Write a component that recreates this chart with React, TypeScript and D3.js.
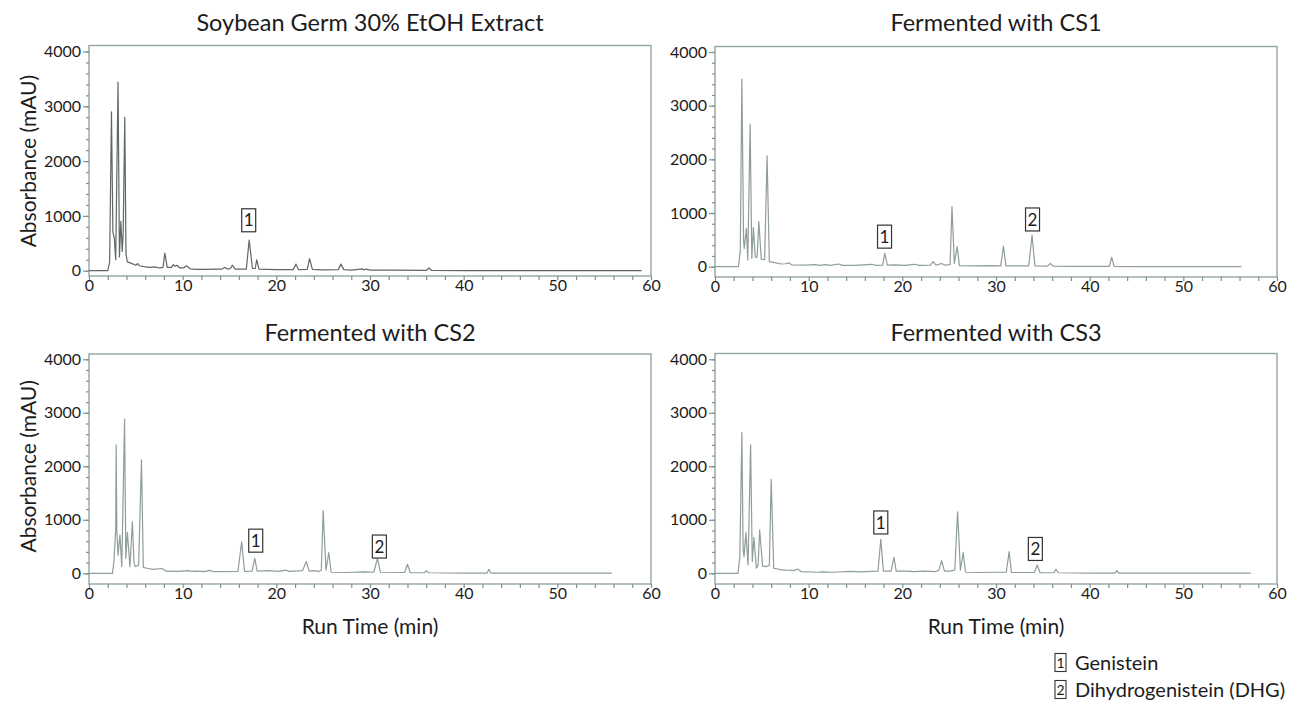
import React, { useEffect, useRef } from 'react';
import * as d3 from 'd3';

type Pt = [number, number];

// traces: [run time (min), absorbance (mAU)]
const soyTrace: Pt[] = [
  [0, 0], [2.0, 0], [2.2, 150], [2.4, 2900], [2.55, 700], [2.7, 600], [2.85, 200], [3.1, 3440], [3.25, 250],
  [3.4, 900], [3.55, 350], [3.65, 700], [3.82, 2800], [3.95, 300], [4.1, 160], [4.6, 130], [5.0, 100], [5.2, 130],
  [5.4, 90], [6.0, 70], [6.5, 60], [7.0, 70], [7.5, 50], [7.9, 60], [8.1, 320], [8.35, 60], [8.8, 60], [9.0, 110],
  [9.2, 80], [9.4, 100], [9.7, 50], [10.1, 50], [10.4, 90], [10.8, 35], [11.5, 25], [12.5, 25], [13.5, 30],
  [14.2, 30], [14.5, 60], [14.8, 30], [15.1, 40], [15.3, 100], [15.6, 30], [16.8, 30], [17.1, 560], [17.45, 40],
  [17.75, 40], [17.9, 200], [18.15, 30], [19, 25], [20, 20], [21.8, 20], [22.1, 120], [22.35, 20], [23.3, 25],
  [23.55, 220], [23.85, 25], [25, 15], [26.6, 20], [26.9, 120], [27.2, 20], [28, 10], [29.2, 35], [29.35, 15],
  [29.6, 30], [30, 10], [32, 10], [36.0, 5], [36.3, 50], [36.6, 5], [40, 3], [59, 3],
];

const cs1Trace: Pt[] = [
  [0, 0], [2.5, 0], [2.7, 300], [2.87, 3495], [3.05, 500], [3.12, 340], [3.35, 715], [3.5, 125], [3.75, 2655],
  [3.93, 155], [4.1, 730], [4.3, 175], [4.5, 180], [4.68, 840], [4.94, 140], [5.3, 130], [5.56, 2065], [5.8, 95],
  [6.5, 70], [7.05, 50], [7.5, 55], [7.9, 70], [8.2, 35], [9.5, 30], [10.7, 40], [11.2, 25], [11.8, 40], [12.3, 25],
  [13.2, 50], [13.6, 25], [15, 25], [16.7, 45], [17.2, 25], [17.9, 30], [18.13, 250], [18.4, 30], [19.2, 35],
  [20.3, 25], [21.3, 45], [21.8, 25], [23.0, 30], [23.3, 95], [23.6, 30], [24.2, 60], [24.5, 30], [25.1, 40],
  [25.3, 1120], [25.55, 60], [25.85, 375], [26.1, 20], [27.5, 15], [29.4, 20], [30.5, 15], [30.8, 385], [31.05, 15],
  [33.5, 15], [33.85, 590], [34.15, 15], [35.5, 10], [35.8, 60], [36.1, 10], [38, 5], [42.1, 5], [42.35, 175],
  [42.6, 5], [45, 3], [56.2, 3],
];

const cs2Trace: Pt[] = [
  [0, 0], [2.5, 0], [2.65, 200], [2.85, 810], [2.9, 2400], [2.97, 800], [3.1, 340], [3.3, 715], [3.5, 125],
  [3.8, 2880], [3.93, 280], [4.1, 765], [4.37, 125], [4.63, 965], [4.8, 200], [4.94, 125], [5.3, 150], [5.6, 2120],
  [5.8, 110], [6.3, 90], [6.9, 75], [7.8, 90], [8.25, 40], [9.5, 35], [10.5, 50], [11.0, 35], [11.5, 40], [12.3, 30],
  [12.9, 55], [13.3, 30], [15.9, 35], [16.3, 590], [16.6, 35], [17.4, 40], [17.7, 280], [17.95, 40], [19.2, 50],
  [20.3, 35], [21.0, 60], [21.4, 35], [22.8, 50], [23.2, 220], [23.5, 40], [24.0, 50], [24.5, 35], [24.8, 60],
  [25.0, 1170], [25.3, 60], [25.6, 385], [25.85, 20], [27.5, 15], [29.4, 25], [30.4, 20], [30.8, 280], [31.1, 20],
  [33.7, 15], [34.0, 170], [34.3, 10], [35.8, 10], [36.0, 50], [36.3, 10], [40, 5], [42.5, 5], [42.7, 75],
  [42.9, 5], [46, 3], [55.8, 3],
];

const cs3Trace: Pt[] = [
  [0, 0], [2.45, 0], [2.65, 300], [2.87, 2630], [3.0, 470], [3.1, 310], [3.3, 760], [3.53, 155], [3.8, 2400],
  [3.98, 220], [4.15, 670], [4.42, 95], [4.6, 150], [4.77, 810], [5.08, 135], [5.5, 125], [5.8, 150], [6.0, 1755],
  [6.27, 95], [7.0, 70], [7.5, 60], [8.5, 55], [8.84, 80], [9.2, 30], [11.0, 20], [11.5, 25], [12.5, 20],
  [14.5, 35], [15.5, 25], [17.4, 40], [17.7, 635], [17.98, 40], [18.8, 40], [19.1, 300], [19.35, 40], [20.5, 40],
  [21.3, 30], [22.3, 40], [23.5, 30], [23.9, 60], [24.2, 235], [24.5, 40], [25.0, 40], [25.6, 60], [25.9, 1150],
  [26.2, 60], [26.5, 385], [26.75, 20], [28, 15], [30.0, 20], [31.1, 20], [31.4, 405], [31.65, 15], [34.1, 15],
  [34.4, 155], [34.7, 10], [36.2, 10], [36.4, 75], [36.65, 10], [40, 5], [42.7, 5], [42.9, 50], [43.1, 5],
  [47, 3], [57.2, 3],
];

// boxed peak labels: [peak id, time, absorbance of label centre]
const soyMarks: [string, number, number][] = [['1', 17.05, 920]];
const cs1Marks: [string, number, number][] = [['1', 18.1, 560], ['2', 33.9, 880]];
const cs2Marks: [string, number, number][] = [['1', 17.8, 610], ['2', 31.0, 500]];
const cs3Marks: [string, number, number][] = [['1', 17.7, 950], ['2', 34.2, 455]];

const titles = ['Soybean Germ 30% EtOH Extract', 'Fermented with CS1', 'Fermented with CS2', 'Fermented with CS3'];
const yTicks = [0, 1000, 2000, 3000, 4000];
const xTicks = [0, 10, 20, 30, 40, 50, 60];
const legendIds = ['1', '2'];
const legendNames = ['Genistein', 'Dihydrogenistein (DHG)'];

const FONT = 'Lato, "Open Sans", sans-serif';

const panels = [
  { trace: soyTrace, marks: soyMarks, x0: 89, x1: 651, top: 45.5, bottom: 276, y0: 270.7, y4: 51.5, titleY: 23, yTitle: true, xTitle: false, line: '#5f6866' },
  { trace: cs1Trace, marks: cs1Marks, x0: 715, x1: 1277, top: 46.5, bottom: 277, y0: 266.7, y4: 52, titleY: 23, yTitle: false, xTitle: false, line: '#8f9e9a' },
  { trace: cs2Trace, marks: cs2Marks, x0: 89, x1: 651, top: 354, bottom: 584, y0: 573.3, y4: 359.3, titleY: 333, yTitle: true, xTitle: true, line: '#8f9e9a' },
  { trace: cs3Trace, marks: cs3Marks, x0: 715, x1: 1277, top: 353.5, bottom: 584, y0: 573.3, y4: 359.3, titleY: 333, yTitle: false, xTitle: true, line: '#8f9e9a' },
];

const Panel = ({ p, title }: { p: typeof panels[number]; title: string }) => {
  const ref = useRef<SVGGElement>(null);

  useEffect(() => {
    const g = d3.select(ref.current);
    g.selectAll('*').remove();

    const x = d3.scaleLinear().domain([0, 60]).range([p.x0, p.x1]);
    const y = d3.scaleLinear().domain([0, 4000]).range([p.y0, p.y4]);
    const axisColor = '#7f918d';

    g.append('rect')
      .attr('x', p.x0).attr('y', p.top)
      .attr('width', p.x1 - p.x0).attr('height', p.bottom - p.top)
      .attr('fill', 'none').attr('stroke', '#93a5a1').attr('stroke-width', 1.4);

    const styleAxis = (s: any) => {
      s.select('.domain').remove();
      s.selectAll('line').attr('stroke', axisColor).attr('stroke-width', 1.2);
      s.selectAll('text').attr('fill', '#1c1c1c').attr('font-family', FONT).attr('font-size', 16);
    };

    g.append('g').attr('transform', `translate(${p.x0},0)`)
      .call(d3.axisLeft(y).tickValues(d3.range(0, 4001, 200)).tickSize(3).tickFormat(() => ''))
      .call(styleAxis);
    g.append('g').attr('transform', `translate(${p.x0},0)`)
      .call(d3.axisLeft(y).tickValues(yTicks).tickSize(6).tickPadding(2).tickFormat(d3.format('d')))
      .call(styleAxis);

    g.append('g').attr('transform', `translate(0,${p.bottom})`)
      .call(d3.axisBottom(x).tickValues(d3.range(0, 61, 2)).tickSize(4).tickFormat(() => ''))
      .call(styleAxis);
    g.append('g').attr('transform', `translate(0,${p.bottom})`)
      .call(d3.axisBottom(x).tickValues(xTicks).tickSize(0).tickPadding(4).tickFormat(d3.format('d')))
      .call(styleAxis);

    const line = d3.line<Pt>().x(d => x(d[0])).y(d => y(d[1]));
    g.append('path')
      .attr('d', line(p.trace))
      .attr('fill', 'none')
      .attr('stroke', p.line)
      .attr('stroke-width', 1.2)
      .attr('stroke-linejoin', 'round');

    const m = g.selectAll('g.mark').data(p.marks).enter().append('g')
      .attr('class', 'mark')
      .attr('transform', d => `translate(${x(d[1])},${y(d[2])})`);
    m.append('rect')
      .attr('x', -7).attr('y', -11.5).attr('width', 14).attr('height', 23)
      .attr('fill', '#fff').attr('stroke', '#333').attr('stroke-width', 1.2);
    m.append('text')
      .text(d => d[0])
      .attr('text-anchor', 'middle').attr('dy', '0.36em')
      .attr('font-family', FONT).attr('font-size', 17).attr('fill', '#1c1c1c');

    const cx = (p.x0 + p.x1) / 2;
    g.append('text').text(title)
      .attr('x', cx).attr('y', p.titleY).attr('dy', '0.36em')
      .attr('text-anchor', 'middle')
      .attr('font-family', FONT).attr('font-size', 23.5).attr('fill', '#1c1c1c');

    if (p.yTitle) {
      g.append('text').text('Absorbance (mAU)')
        .attr('transform', `translate(28,${(p.y0 + p.y4) / 2}) rotate(-90)`)
        .attr('dy', '0.36em').attr('text-anchor', 'middle')
        .attr('font-family', FONT).attr('font-size', 21).attr('fill', '#1c1c1c');
    }
    if (p.xTitle) {
      g.append('text').text('Run Time (min)')
        .attr('x', cx).attr('y', 626).attr('dy', '0.36em')
        .attr('text-anchor', 'middle')
        .attr('font-family', FONT).attr('font-size', 21).attr('fill', '#1c1c1c');
    }
  }, [p, title]);

  return <g ref={ref} />;
};

const Legend = () => {
  const ref = useRef<SVGGElement>(null);
  useEffect(() => {
    const g = d3.select(ref.current);
    g.selectAll('*').remove();
    const row = d3.scaleBand<string>().domain(legendIds).range([649, 703]);
    const items = g.selectAll('g').data(legendIds).enter().append('g')
      .attr('transform', d => `translate(1060,${(row(d) as number) + row.bandwidth() / 2})`);
    items.append('rect')
      .attr('x', -5).attr('y', -9).attr('width', 11).attr('height', 18)
      .attr('fill', 'none').attr('stroke', '#333').attr('stroke-width', 1.1);
    items.append('text').text(d => d)
      .attr('x', 0.5).attr('dy', '0.36em').attr('text-anchor', 'middle')
      .attr('font-family', FONT).attr('font-size', 14).attr('fill', '#1c1c1c');
    items.append('text').text((d, i) => legendNames[i])
      .attr('x', 15).attr('dy', '0.36em')
      .attr('font-family', FONT).attr('font-size', 20).attr('fill', '#1c1c1c');
  }, []);
  return <g ref={ref} />;
};

export default function App() {
  return (
    <svg width={1300} height={702} style={{ position: 'absolute', left: 0, top: 0, background: '#fff' }}>
      {panels.map((p, i) => <Panel key={i} p={p} title={titles[i]} />)}
      <Legend />
    </svg>
  );
}
